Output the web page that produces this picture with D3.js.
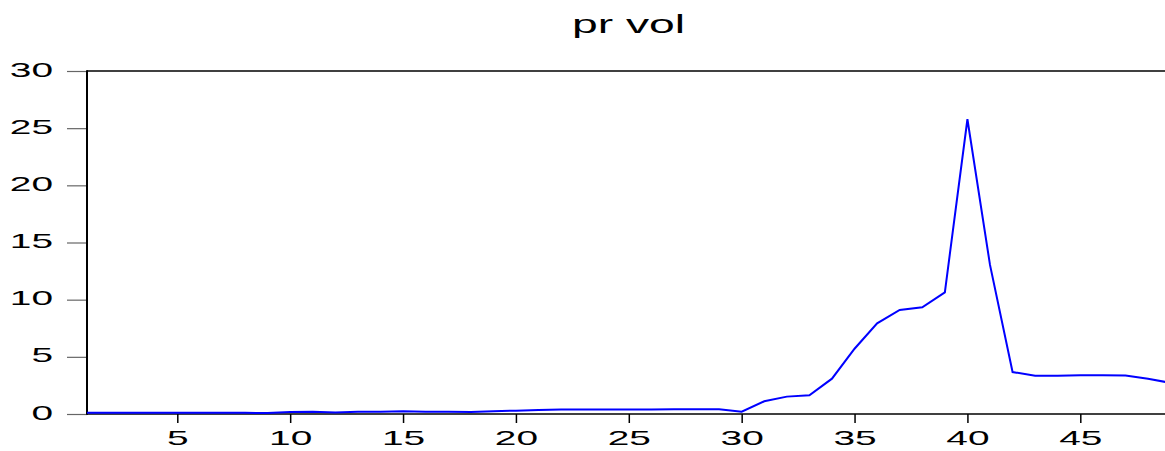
<!DOCTYPE html>
<html>
<head>
<meta charset="utf-8">
<script src="https://cdn.jsdelivr.net/npm/d3@7"></script>
<style>
  html, body { margin: 0; padding: 0; background: #fff; }
  svg { display: block; }
  text { font-family: "Liberation Sans", Arial, sans-serif; fill: #000; }
</style>
</head>
<body>
<div id="chart"></div>
<script>
const title = "pr vol";
const periods = d3.range(1, 50);
const prVol = [
  0.10, 0.10, 0.11, 0.10, 0.10, 0.10, 0.10, 0.10, 0.09, 0.17,
  0.20, 0.14, 0.19, 0.19, 0.24, 0.19, 0.19, 0.18, 0.25, 0.29,
  0.34, 0.39, 0.40, 0.40, 0.40, 0.40, 0.42, 0.42, 0.41, 0.20,
  1.11, 1.52, 1.63, 3.09, 5.71, 7.93, 9.10, 9.33, 10.64, 25.78,
  13.04, 3.67, 3.35, 3.35, 3.38, 3.40, 3.37, 3.08, 2.72
];
const yTicks = [0, 5, 10, 15, 20, 25, 30];
const xTicks = [5, 10, 15, 20, 25, 30, 35, 40, 45];

const W = 1165, H = 451;
const mLeft = 87, mTop = 71, mBottom = 414;
const sx = 1.85;

const svg = d3.select("#chart").append("svg").attr("width", W).attr("height", H);

const x = d3.scaleLinear().domain([1, 49]).range([mLeft, mLeft + 48 * 22.575]);
const y = d3.scaleLinear().domain([0, 30]).range([mBottom, mTop]);

// title
svg.append("g").attr("transform", `translate(${W / 2 + 46},33) scale(${sx},1)`)
  .append("text").attr("text-anchor", "middle").attr("font-size", 25).text(title);

// y axis
const yAxis = d3.axisLeft(y).tickValues(yTicks).tickSize(20).tickPadding(0).tickFormat(d3.format("d"));
const gy = svg.append("g").attr("transform", `translate(${mLeft},0)`).call(yAxis);
gy.select(".domain").remove();
gy.selectAll(".tick line").attr("stroke", "#666").attr("stroke-width", 1.2);
gy.selectAll(".tick text").remove();
gy.selectAll(".tick").append("g")
  .attr("transform", `translate(-34,5) scale(${sx},1)`)
  .append("text").attr("text-anchor", "end").attr("font-size", 21)
  .attr("fill", "#000").text(d => d);

// x axis
const xAxis = d3.axisBottom(x).tickValues(xTicks).tickSize(9).tickFormat(d3.format("d"));
const gx = svg.append("g").attr("transform", `translate(0,${mBottom})`).call(xAxis);
gx.select(".domain").remove();
gx.selectAll(".tick line").attr("stroke", "#000").attr("stroke-width", 1.5);
gx.selectAll(".tick text").remove();
gx.selectAll(".tick").append("g")
  .attr("transform", `translate(0,31) scale(${sx},1)`)
  .append("text").attr("text-anchor", "middle").attr("font-size", 21)
  .attr("fill", "#000").text(d => d);

// frame lines
svg.append("line").attr("x1", mLeft).attr("x2", W).attr("y1", mTop).attr("y2", mTop)
  .attr("stroke", "#000").attr("stroke-width", 1.6);
svg.append("line").attr("x1", mLeft).attr("x2", W).attr("y1", mBottom).attr("y2", mBottom)
  .attr("stroke", "#000").attr("stroke-width", 1.6);
svg.append("line").attr("x1", mLeft).attr("x2", mLeft).attr("y1", mTop - 0.8).attr("y2", mBottom + 0.8)
  .attr("stroke", "#000").attr("stroke-width", 2);

// series line
const line = d3.line().x((d, i) => x(periods[i])).y(d => y(d));
svg.append("path").datum(prVol)
  .attr("d", line)
  .attr("fill", "none").attr("stroke", "#0000ff").attr("stroke-width", 2)
  .attr("stroke-linejoin", "miter");
</script>
</body>
</html>
